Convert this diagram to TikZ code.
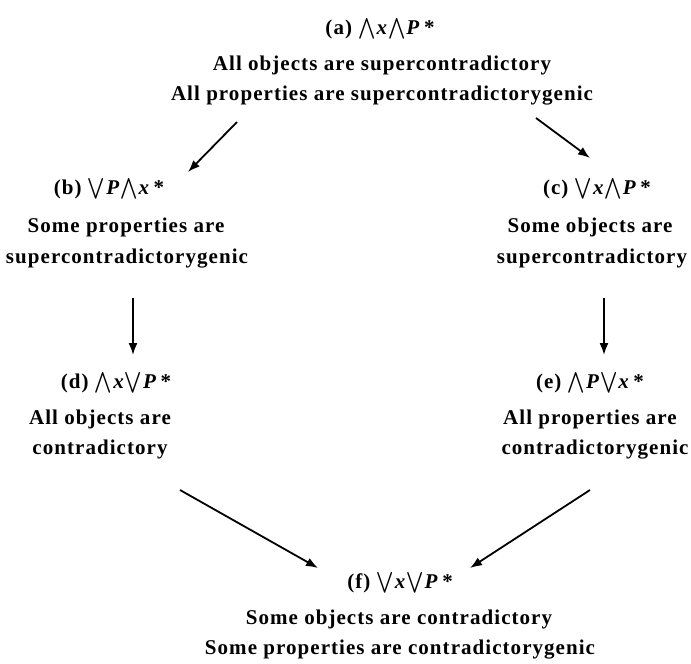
\documentclass[tikz,border=0pt]{standalone}
\usepackage{exscale}
\usepackage{fontspec}
\setmainfont{Liberation Serif}[LetterSpace=5]
\usetikzlibrary{arrows.meta,calc}
\newcommand\qAll{\(\bigwedge\)}
\newcommand\qSome{\(\bigvee\)}
\newcommand\vx{\kern1pt\textit{x}}
\newcommand\vP{\kern1pt\textbf{\textit{P}}}
\newcommand\st{\,*}
\begin{document}
\begin{tikzpicture}[x=1pt,y=-1pt,
  txt/.style={anchor=base,inner sep=0pt,font=\fontsize{21}{25}\selectfont\bfseries},
  hd/.style={anchor=base,inner sep=0pt,font=\fontsize{21}{25}\selectfont\bfseries},
  arr/.style={-{Latex[length=12pt,width=9pt]},line width=1.8pt}]
\useasboundingbox[fill=white] (0,0) rectangle (691,664);
% (a)
\node[hd]  (a1) at (380,34) {(a)~\qAll\vx\qAll\vP\st};
\node[txt] (a2) at (382,70) {All objects are supercontradictory};
\node[txt] (a3) at (382,100) {All properties are supercontradictorygenic};
% (b)
\node[hd]  (b1) at (109,194) {(b)~\qSome\vP\qAll\vx\st};
\node[txt] (b2) at (126,232) {Some properties are};
\node[txt] (b3) at (127,263) {supercontradictorygenic};
% (c)
\node[hd]  (c1) at (597,194) {(c)~\qSome\vx\qAll\vP\st};
\node[txt] (c2) at (590,232) {Some objects are};
\node[txt] (c3) at (592,263) {supercontradictory};
% (d)
\node[hd]  (d1) at (116,388) {(d)~\qAll\vx\qSome\vP\st};
\node[txt] (d2) at (100,424) {All objects are};
\node[txt] (d3) at (100,454) {contradictory};
% (e)
\node[hd]  (e1) at (590,388) {(e)~\qAll\vP\qSome\vx\st};
\node[txt] (e2) at (590,424) {All properties are};
\node[txt] (e3) at (595,454) {contradictorygenic};
% (f)
\node[hd]  (f1) at (400,588) {(f)~\qSome\vx\qSome\vP\st};
\node[txt] (f2) at (399,624) {Some objects are contradictory};
\node[txt] (f3) at (400,654) {Some properties are contradictorygenic};
% arrows
\draw[arr] ($(a3.base)+(-145,22)$) -- ($(b1.base)+(79,-22)$);
\draw[arr] ($(a3.base)+(154,18)$) -- ($(c1.base)+(-7,-36)$);
\draw[arr] ($(b3.base)+(6,35)$) -- ($(d1.base)+(17,-33)$);
\draw[arr] ($(c3.base)+(12,35)$) -- ($(e1.base)+(14,-33)$);
\draw[arr] ($(d3.base)+(80,36)$) -- ($(f1.base)+(-82,-20)$);
\draw[arr] ($(e3.base)+(-5,36)$) -- ($(f1.base)+(70,-20)$);
\end{tikzpicture}
\end{document}
